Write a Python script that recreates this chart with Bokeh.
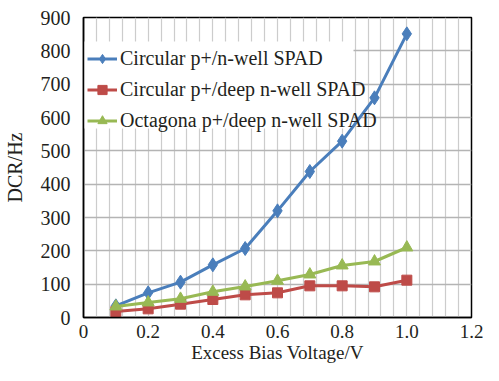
import numpy as np
from bokeh.plotting import figure
from bokeh.models import FixedTicker, Legend, BoxAnnotation
from bokeh.embed import file_html
from bokeh.resources import INLINE

# ---- data ----
voltage = [0.1, 0.2, 0.3, 0.4, 0.5, 0.6, 0.7, 0.8, 0.9, 1.0]
circ_nwell = [35, 74, 106, 158, 207, 320, 438, 529, 659, 851]
circ_deep = [18, 26, 40, 54, 68, 74, 95, 95, 92, 112]
oct_deep = [33, 45, 56, 77, 93, 110, 129, 156, 168, 210]

labels = ["Circular p+/n-well SPAD", "Circular p+/deep n-well SPAD", "Octagona p+/deep n-well SPAD"]
x_ticks = [0, 0.2, 0.4, 0.6, 0.8, 1.0, 1.2]
x_tick_labels = ["0", "0.2", "0.4", "0.6", "0.8", "1.0", "1.2"]
y_ticks = [0, 100, 200, 300, 400, 500, 600, 700, 800, 900]

FONT = "Liberation Serif"
TXT = "#231f20"

p = figure(width=483, height=365, x_range=(0, 1.2), y_range=(0, 900),
           output_backend="svg", toolbar_location=None,
           min_border_left=76, min_border_right=12, min_border_top=17, min_border_bottom=10)
p.background_fill_color = "white"
p.border_fill_color = "white"
p.outline_line_color = "black"
p.outline_line_width = 1.5

# axes
p.xaxis.ticker = FixedTicker(ticks=x_ticks)
p.xaxis.major_label_overrides = {t: l for t, l in zip(x_ticks, x_tick_labels)}
p.yaxis.ticker = FixedTicker(ticks=y_ticks)
p.axis.axis_line_color = "black"
p.axis.axis_line_width = 1.5
p.axis.major_tick_line_color = None
p.axis.minor_tick_line_color = None
p.axis.major_label_text_font = FONT
p.axis.major_label_text_font_size = "20px"
p.axis.major_label_text_color = TXT
p.axis.axis_label_text_font = FONT
p.axis.axis_label_text_font_style = "normal"
p.axis.axis_label_text_color = TXT
p.xaxis.axis_label = "Excess Bias Voltage/V"
p.yaxis.axis_label = "DCR/Hz"
p.xaxis.major_label_text_font_size = "19px"
p.xaxis.axis_label_text_font_size = "19px"
p.yaxis.axis_label_text_font_size = "20px"
p.xaxis.major_label_standoff = 1
p.xaxis.axis_label_standoff = 1
p.yaxis.major_label_standoff = 7
p.yaxis.axis_label_standoff = 12

# grids
p.ygrid.ticker = FixedTicker(ticks=y_ticks)
p.ygrid.grid_line_color = "#b4b4b4"
p.ygrid.grid_line_width = 1.5
p.xgrid.ticker = FixedTicker(ticks=list(np.round(np.arange(0, 1.2001, 0.04), 3)))
p.xgrid.grid_line_color = "#cccccc"
p.xgrid.grid_line_width = 1.2

# white legend panel behind the series (frame-relative screen units, y up)
panel = BoxAnnotation(left=0, right=270, top=276, bottom=189,
                      left_units="screen", right_units="screen",
                      top_units="screen", bottom_units="screen",
                      fill_color="white", fill_alpha=1.0, line_color=None, level="underlay")
p.add_layout(panel)

series = [
    (circ_nwell, "#4A7EBB", "diamond", 14),
    (circ_deep, "#BE4B48", "square", 10),
    (oct_deep, "#98B954", "triangle", 12),
]
items = []
for (vals, col, mk, sz), lab in zip(series, labels):
    r1 = p.line(voltage, vals, line_color=col, line_width=3)
    r2 = p.scatter(voltage, vals, marker=mk, size=sz, fill_color=col, line_color=col)
    items.append((lab, [r1, r2]))

legend = Legend(items=items, location=(4, 185), margin=0, padding=4,
                spacing=8, glyph_width=30, glyph_height=23, label_height=23,
                label_standoff=3, label_text_font=FONT, label_text_font_size="20px",
                label_text_color=TXT,
                background_fill_alpha=0.0,
                border_line_color=None)
p.add_layout(legend, "center")

open("out.html", "w").write(file_html(p, INLINE))
